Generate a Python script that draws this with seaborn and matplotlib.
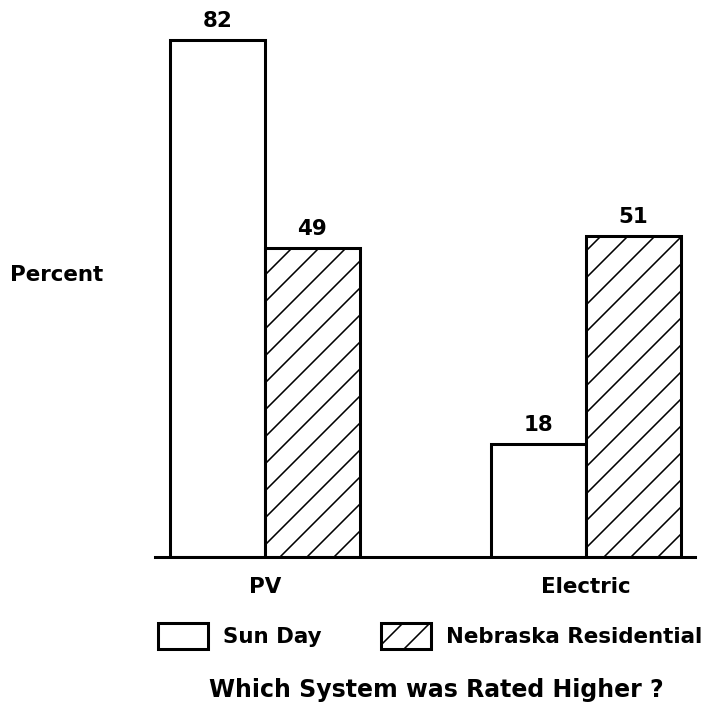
import pandas as pd
import matplotlib
matplotlib.use('Agg')
import matplotlib.pyplot as plt
import matplotlib.patches as mpatches
import seaborn as sns

# data
systems = ["PV", "Electric"]
groups = ["Sun Day", "Nebraska Residential"]
sun_day = [82, 18]
nebraska = [49, 51]

df = pd.DataFrame({
    'system': systems * 2,
    'group': [groups[0]] * 2 + [groups[1]] * 2,
    'percent': sun_day + nebraska,
})

# dpi chosen so that the '/' hatch spacing matches the drawing
DPI = 162
sns.set_style('white')
plt.rcParams['font.family'] = ['DejaVu Sans']
plt.rcParams['text.color'] = 'black'
plt.rcParams['xtick.color'] = 'black'
plt.rcParams['hatch.linewidth'] = 0.7
plt.rcParams['hatch.color'] = 'black'

fig = plt.figure(figsize=(708 / DPI, 702 / DPI), dpi=DPI)
ax = fig.add_axes([155 / 708, 145 / 702, 540 / 708, 537 / 702])

sns.barplot(data=df, x='system', y='percent', hue='group',
            palette=['white', 'white'], edgecolor='black', linewidth=1.35,
            width=0.59, saturation=1, legend=False, ax=ax)

for bars, h in zip(ax.containers, ['', '//']):
    for b in bars:
        b.set_hatch(h)
    ax.bar_label(bars, fontsize=9.5, fontweight='bold', padding=4, color='black')

ax.set_xlim(-0.343, 1.34)
ax.set_ylim(0, 85.2)
ax.set_yticks([])
ax.set_xlabel('')
ax.set_ylabel('')
sns.despine(ax=ax, left=True)
ax.spines['bottom'].set_linewidth(1.35)
ax.spines['bottom'].set_color('black')
ax.tick_params(axis='x', length=0, pad=9, labelsize=9.5, labelcolor='black')
for t in ax.get_xticklabels():
    t.set_fontweight('bold')

fig.text(10 / 708, 1 - 275 / 702, 'Percent', ha='left', va='center',
         fontsize=9.5, fontweight='bold')

handles = [
    mpatches.Patch(facecolor='white', edgecolor='black', linewidth=1.35, label=groups[0]),
    mpatches.Patch(facecolor='white', edgecolor='black', linewidth=1.35, hatch='//', label=groups[1]),
]
fig.legend(handles=handles, loc='center', bbox_to_anchor=(430 / 708, 1 - 636 / 702),
           ncol=2, frameon=False, prop={'size': 9.5, 'weight': 'bold'},
           handlelength=2.35, handleheight=1.45, handletextpad=0.7, columnspacing=2.8)

fig.text(436 / 708, 1 - 690 / 702, 'Which System was Rated Higher ?', ha='center',
         va='center', fontsize=10.5, fontweight='bold')

fig.savefig('out.png', dpi=DPI)
